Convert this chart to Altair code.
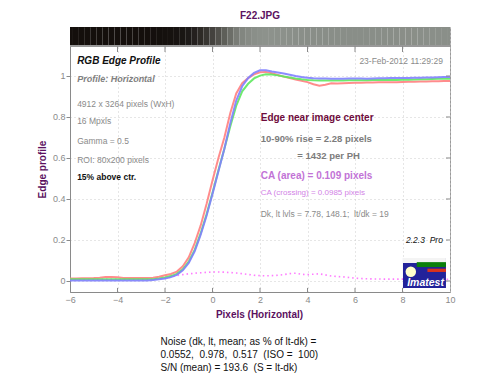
import altair as alt
import pandas as pd

# ---------------- data ----------------
X = [-6.0, -5.75, -5.5, -5.25, -5.0, -4.75, -4.5, -4.25, -4.0, -3.75, -3.5, -3.25, -3.0,
     -2.75, -2.5, -2.25, -2.0, -1.75, -1.5, -1.25, -1.0, -0.75, -0.5, -0.25, 0.0,
     0.25, 0.5, 0.75, 1.0, 1.25, 1.5, 1.75, 2.0, 2.25, 2.5, 2.75, 3.0, 3.25, 3.5,
     3.75, 4.0, 4.25, 4.5, 4.75, 5.0, 5.25, 5.5, 5.75, 6.0, 6.25, 6.5, 6.75, 7.0,
     7.25, 7.5, 7.75, 8.0, 8.25, 8.5, 8.75, 9.0, 9.25, 9.5, 9.75, 10.0]

RED = [0.012, 0.012, 0.013, 0.013, 0.014, 0.016, 0.020, 0.020, 0.018, 0.015, 0.014, 0.014, 0.014,
       0.014, 0.016, 0.021, 0.028, 0.034, 0.046, 0.072, 0.115, 0.185, 0.270, 0.375, 0.490,
       0.600, 0.700, 0.820, 0.915, 0.965, 0.990, 1.008, 1.018, 1.020, 1.013, 1.005, 0.997, 0.990, 0.983,
       0.977, 0.970, 0.960, 0.953, 0.957, 0.964, 0.963, 0.965, 0.966, 0.967, 0.967, 0.968, 0.968, 0.969,
       0.969, 0.970, 0.970, 0.971, 0.972, 0.972, 0.973, 0.973, 0.974, 0.974, 0.975, 0.975]

GREEN = [0.008, 0.008, 0.008, 0.008, 0.008, 0.008, 0.008, 0.008, 0.008, 0.008, 0.008, 0.008, 0.008,
         0.008, 0.009, 0.012, 0.017, 0.024, 0.035, 0.057, 0.094, 0.152, 0.232, 0.325, 0.430,
         0.540, 0.645, 0.755, 0.855, 0.925, 0.962, 0.988, 1.002, 1.008, 1.007, 1.003, 0.998, 0.993, 0.988,
         0.984, 0.981, 0.979, 0.978, 0.978, 0.978, 0.978, 0.978, 0.979, 0.979, 0.979, 0.979, 0.980, 0.980,
         0.980, 0.981, 0.981, 0.982, 0.982, 0.983, 0.984, 0.984, 0.985, 0.986, 0.986, 0.987]

BLUE = [0.003, 0.003, 0.003, 0.003, 0.003, 0.003, 0.003, 0.003, 0.003, 0.003, 0.003, 0.003, 0.003,
        0.003, 0.005, 0.008, 0.012, 0.019, 0.030, 0.052, 0.088, 0.145, 0.225, 0.318, 0.425,
        0.535, 0.645, 0.770, 0.880, 0.950, 0.990, 1.015, 1.028, 1.028, 1.022, 1.017, 1.012, 1.006, 1.000,
        0.995, 0.991, 0.989, 0.988, 0.988, 0.987, 0.987, 0.987, 0.988, 0.988, 0.988, 0.987, 0.988, 0.989,
        0.989, 0.990, 0.990, 0.990, 0.990, 0.991, 0.992, 0.993, 0.993, 0.994, 0.995, 0.995]

CA = [0.008, 0.008, 0.008, 0.008, 0.008, 0.008, 0.008, 0.008, 0.008, 0.008, 0.008, 0.008, 0.008,
      0.008, 0.010, 0.011, 0.014, 0.019, 0.027, 0.031, 0.035, 0.038, 0.040, 0.042, 0.044,
      0.044, 0.043, 0.041, 0.039, 0.036, 0.032, 0.028, 0.026, 0.025, 0.026, 0.028, 0.031, 0.036, 0.038,
      0.033, 0.031, 0.033, 0.035, 0.030, 0.024, 0.022, 0.020, 0.017, 0.014, 0.012, 0.011, 0.010, 0.010,
      0.009, 0.009, 0.009, 0.009, 0.008, 0.008, 0.008, 0.008, 0.008, 0.008, 0.008, 0.008]

X_TICKS = [-6, -4, -2, 0, 2, 4, 6, 8, 10]
Y_TICKS = [0, 0.2, 0.4, 0.6, 0.8, 1]

# ---------------- layout / style constants ----------------
W, H = 380, 265
Y_MIN, Y_TOP = -0.0537, 1.239
STRIP_BOTTOM = 1.147
FONT = "Liberation Sans"
PURPLE = "#5b1160"
GRAY = "#8a8a8a"

df = pd.DataFrame({"x": X, "R": RED, "G": GREEN, "B": BLUE, "CA": CA})
xs = alt.Scale(domain=[-6, 10], nice=False, zero=False)
ys = alt.Scale(domain=[Y_MIN, Y_TOP], nice=False, zero=False)

base = alt.Chart(df)

x_axis = alt.Axis(values=X_TICKS, grid=True, gridColor="#cccccc", gridDash=[1, 3],
                  ticks=False, tickSize=0, labelPadding=3, labelFont=FONT, labelFontSize=9,
                  labelColor=GRAY, domainColor=GRAY, title="Pixels (Horizontal)", format="d",
                  titleFont=FONT, titleFontSize=10, titleFontWeight="bold", titleColor=PURPLE,
                  titleBaseline="middle", titleX=W / 2 - 1, titleY=22, labelFlush=False)
y_axis = alt.Axis(values=Y_TICKS, grid=True, gridColor="#cccccc", gridDash=[1, 3],
                  tickSize=4, tickColor=GRAY, labelPadding=1, labelFont=FONT, labelFontSize=9,
                  labelColor=GRAY, domainColor=GRAY, title="Edge profile", format="~g",
                  titleFont=FONT, titleFontSize=10, titleFontWeight="bold", titleColor=PURPLE,
                  titleBaseline="middle", titleAlign="center", titleAngle=270,
                  titleX=-28, titleY=142, labelFlush=False)

# gradient strip (edge image) coloured from the green profile
strip = base.transform_calculate(
    x0="max(datum.x - 0.125, -6)", x1="min(datum.x + 0.125, 10)"
).mark_rect().encode(
    x=alt.X("x0:Q", scale=xs, axis=x_axis),
    x2="x1:Q",
    y=alt.datum(STRIP_BOTTOM, scale=ys, axis=y_axis),
    y2=alt.datum(Y_TOP),
    color=alt.Color("G:Q", scale=alt.Scale(domain=[0, 1], range=["#130e0b", "#8c918b"]), legend=None),
)
strip_edge = base.mark_rule(color="#9a9a9a").encode(
    x=alt.value(0), x2=alt.value(W), y=alt.datum(STRIP_BOTTOM)
)

def curve(col, color, width=2.0, dash=None, opacity=0.9):
    kw = dict(color=color, strokeWidth=width, clip=True, opacity=opacity)
    if dash:
        kw["strokeDash"] = dash
    return base.mark_line(**kw).encode(x="x:Q", y=f"{col}:Q")

ca_line = curve("CA", "#ff7cff", 1.6, [1.5, 3], 1.0)
red_line = curve("R", "#ff8080", 2.0)
green_line = curve("G", "#5ee85e", 2.0)
blue_line = curve("B", "#8080ff", 2.0)

# inward ticks on bottom, top, right
xt_df = pd.DataFrame({"v": X_TICKS[1:-1]})
yt_df = pd.DataFrame({"v": Y_TICKS})
bottom_ticks = alt.Chart(xt_df).mark_rule(color=GRAY).encode(
    x="v:Q", y=alt.datum(Y_MIN), y2=alt.datum(Y_MIN + 0.02))
top_ticks = alt.Chart(xt_df).mark_rule(color=GRAY).encode(
    x="v:Q", y=alt.datum(STRIP_BOTTOM), y2=alt.datum(STRIP_BOTTOM - 0.03))
right_ticks = alt.Chart(yt_df).mark_rule(color=GRAY).encode(
    y="v:Q", x=alt.value(W - 4), x2=alt.value(W))

# ---------------- annotations ----------------
NB = "\u00a0"
ANNOTATIONS = [
    # x, y, text, style
    (-5.70, 1.073, "RGB Edge Profile", "head"),
    (-5.70, 0.985, "Profile: Horizontal", "subhead"),
    (-5.70, 0.863, "4912 x 3264 pixels (WxH)", "info"),
    (-5.70, 0.780, "16 Mpxls", "info"),
    (-5.70, 0.683, "Gamma = 0.5", "info"),
    (-5.70, 0.590, "ROI: 80x200 pixels", "info"),
    (-5.70, 0.507, "15% above ctr.", "boldblack"),
    (9.70, 1.073, "23-Feb-2012 11:29:29", "inforight"),
    (2.03, 0.795, "Edge near image center", "maroon"),
    (2.03, 0.693, "10-90% rise = 2.28 pixels", "boldgray"),
    (3.57, 0.610, "= 1432 per PH", "boldgray"),
    (2.03, 0.512, "CA (area) = 0.109 pixels", "caarea"),
    (2.03, 0.430, "CA (crossing) = 0.0985 pixels", "cacross"),
    (2.03, 0.327, f"Dk, lt lvls = 7.78, 148.1;{NB}{NB}lt/dk = 19", "info"),
    (9.70, 0.200, f"2.2.3{NB}{NB}Pro", "version"),
    (-2.19, -0.298, "Noise (dk, lt, mean; as % of lt-dk) =", "noise"),
    (-2.19, -0.361, f"0.0552,{NB}{NB}0.978,{NB}{NB}0.517{NB}{NB}(ISO ={NB}{NB}100)", "noise"),
    (-2.19, -0.424, f"S/N (mean) = 193.6{NB}{NB}(S = lt-dk)", "noise"),
]
STYLES = {
    "head": dict(fontSize=10, fontWeight="bold", fontStyle="italic", color="#111111"),
    "subhead": dict(fontSize=9, fontWeight="bold", fontStyle="italic", color="#808080"),
    "info": dict(fontSize=8.5, color="#8a8a8a"),
    "inforight": dict(fontSize=8.5, color="#8a8a8a", align="right"),
    "boldblack": dict(fontSize=8.5, fontWeight="bold", color="#111111"),
    "maroon": dict(fontSize=10, fontWeight="bold", color="#6e0b3c"),
    "boldgray": dict(fontSize=9.5, fontWeight="bold", color="#7c7c7c"),
    "caarea": dict(fontSize=10, fontWeight="bold", color="#c273d6"),
    "cacross": dict(fontSize=8, color="#d283e6"),
    "version": dict(fontSize=8.5, fontStyle="italic", color="#111111", align="right"),
    "noise": dict(fontSize=10, color="#111111"),
}
ann_df = pd.DataFrame(ANNOTATIONS, columns=["x", "y", "text", "style"])
text_layers = []
for sname, sprops in STYLES.items():
    props = dict(font=FONT, baseline="middle", align="left")
    props.update(sprops)
    text_layers.append(
        alt.Chart(ann_df).transform_filter(alt.datum.style == sname)
        .mark_text(**props).encode(x="x:Q", y="y:Q", text="text:N")
    )

# Imatest logo
LOGO_RECTS = [
    (8.02, 9.83, -0.034, 0.112, "#22229a"),
    (8.02, 9.83, 0.088, 0.112, "#f4f4f4"),
    (8.60, 9.83, 0.068, 0.092, "#0b7f0b"),
    (9.05, 9.83, 0.044, 0.060, "#d8321c"),
]
logo_df = pd.DataFrame(LOGO_RECTS, columns=["x0", "x1", "y0", "y1", "c"])
logo = alt.Chart(logo_df).mark_rect().encode(
    x="x0:Q", x2="x1:Q", y="y0:Q", y2="y1:Q", color=alt.Color("c:N", scale=None))
sun = alt.Chart(pd.DataFrame({"x": [8.35], "y": [0.045]})).mark_circle(
    size=110, color="#ffffcc", opacity=1).encode(x="x:Q", y="y:Q")
logo_text = alt.Chart(pd.DataFrame({"x": [8.97], "y": [-0.008], "t": ["Imatest"]})).mark_text(
    font=FONT, fontSize=10.5, fontWeight="bold", fontStyle="italic", color="white",
    baseline="middle", align="center").encode(x="x:Q", y="y:Q", text="t:N")

chart = alt.layer(
    strip, strip_edge, ca_line, red_line, green_line, blue_line,
    bottom_ticks, top_ticks, right_ticks, logo, sun, logo_text, *text_layers
).resolve_scale(color="independent").properties(
    width=W, height=H,
    title=alt.TitleParams("F22.JPG", font=FONT, fontSize=10, fontWeight="bold",
                          color=PURPLE, anchor="middle", offset=6),
    autosize=alt.AutoSizeParams(type="none"),
    padding={"left": 62, "top": 19, "right": 42, "bottom": 84},
    background="white",
).configure_view(stroke="#9a9a9a", strokeWidth=1)

chart.save("out.html", embed_options={"renderer": "svg", "actions": False})
